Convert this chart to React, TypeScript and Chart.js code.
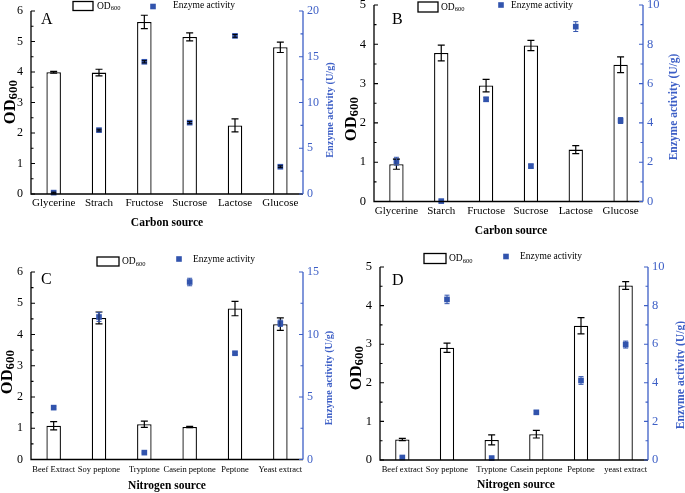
import React, { useEffect, useRef } from "react";
import { Chart, registerables } from "chart.js";

Chart.register(...registerables);

const W = 685;
const H = 493;
const FONT = "'Liberation Serif', 'Times New Roman', serif";
const BLUE = "#3254ad";
const AXIS_BLUE = "#3d5fc6";

// ---------- Panel A (carbon source, first strain) ----------
const catA = ["Glycerine", "Strach", "Fructose", "Sucrose", "Lactose", "Glucose"];
const odA = [3.99, 3.98, 5.64, 5.15, 2.25, 4.81];
const odErrA = [0.03, 0.11, 0.22, 0.13, 0.21, 0.17];
const enzA = [0.15, 6.98, 14.45, 7.8, 17.28, 2.98];
const enzErrA = [0.05, 0.1, 0.12, 0.12, 0.15, 0.1];

// ---------- Panel B (carbon source, second strain) ----------
const catB = ["Glycerine", "Starch", "Fructose", "Sucrose", "Lactose", "Glucose"];
const odB = [0.95, 3.78, 2.95, 3.97, 1.32, 3.48];
const odErrB = [0.13, 0.2, 0.16, 0.13, 0.1, 0.2];
const enzB = [2.05, 0.02, 5.2, 1.8, 8.9, 4.12];
const enzErrB = [0.2, 0.05, 0.1, 0.1, 0.25, 0.15];

// ---------- Panel C (nitrogen source, first strain) ----------
const catC = ["Beef Extract", "Soy peptone", "Tryptone", "Casein peptone", "Peptone", "Yeast extract"];
const odC = [1.08, 4.53, 1.13, 1.04, 4.83, 4.33];
const odErrC = [0.13, 0.19, 0.1, 0.02, 0.23, 0.2];
const enzC = [4.15, 11.4, 0.55, 14.2, 8.5, 10.9];
const enzErrC = [0.1, 0.35, 0.05, 0.3, 0.1, 0.25];

// ---------- Panel D (nitrogen source, second strain) ----------
const catD = ["Beef extract", "Soy peptone", "Tryptone", "Casein peptone", "Peptone", "yeast extract"];
const odD = [0.53, 2.91, 0.52, 0.67, 3.48, 4.52];
const odErrD = [0.03, 0.12, 0.13, 0.1, 0.21, 0.1];
const enzD = [0.13, 8.32, 0.1, 2.47, 4.12, 5.98];
const enzErrD = [0.05, 0.22, 0.05, 0.08, 0.2, 0.18];

type Panel = {
  letter: string;
  cats: string[];
  od: number[];
  odErr: number[];
  enz: number[];
  enzErr: number[];
  odMax: number;
  enzMax: number;
  enzStep: number;
  xTitle: string;
  area: { l: number; r: number; t: number; b: number };
  tickFont: number;
  xFont: number;
  xPad: number;
  enzErrColor: string;
  letterPos: [number, number];
  xTitlePos: [number, number];
  leftTitlePos: [number, number];
  rightTitlePos: [number, number];
  rightTitleFont: number;
  legend: { box: [number, number, number, number]; odX: number; odY: number; sq: [number, number]; txtX: number; txtY: number };
};

const panels: Panel[] = [
  {
    letter: "A", cats: catA, od: odA, odErr: odErrA, enz: enzA, enzErr: enzErrA,
    odMax: 6, enzMax: 20, enzStep: 5, xTitle: "Carbon source",
    area: { l: 31, r: 303, t: 11, b: 194 },
    tickFont: 12, xFont: 11, xPad: 3, enzErrColor: "#000",
    letterPos: [41, 23.5], xTitlePos: [167, 223], leftTitlePos: [11, 102], rightTitlePos: [330, 110], rightTitleFont: 10.3,
    legend: { box: [73, 1.5, 20, 9], odX: 97, odY: 6, sq: [153, 6.5], txtX: 173, txtY: 5.5 },
  },
  {
    letter: "B", cats: catB, od: odB, odErr: odErrB, enz: enzB, enzErr: enzErrB,
    odMax: 5, enzMax: 10, enzStep: 2, xTitle: "Carbon source",
    area: { l: 374, r: 643, t: 5, b: 201.5 },
    tickFont: 12.5, xFont: 11, xPad: 3.5, enzErrColor: BLUE,
    letterPos: [392, 23.5], xTitlePos: [511, 231], leftTitlePos: [352, 119], rightTitlePos: [674, 107], rightTitleFont: 11.5,
    legend: { box: [418, 2, 20, 10], odX: 441, odY: 7, sq: [501, 5], txtX: 511, txtY: 5 },
  },
  {
    letter: "C", cats: catC, od: odC, odErr: odErrC, enz: enzC, enzErr: enzErrC,
    odMax: 6, enzMax: 15, enzStep: 5, xTitle: "Nitrogen source",
    area: { l: 31, r: 303, t: 272, b: 459.5 },
    tickFont: 12, xFont: 8.5, xPad: 5, enzErrColor: BLUE,
    letterPos: [41, 284], xTitlePos: [167, 486], leftTitlePos: [8, 372], rightTitlePos: [329, 378], rightTitleFont: 10.2,
    legend: { box: [97, 257, 22, 9], odX: 122, odY: 261.5, sq: [179, 259], txtX: 193, txtY: 259 },
  },
  {
    letter: "D", cats: catD, od: odD, odErr: odErrD, enz: enzD, enzErr: enzErrD,
    odMax: 5, enzMax: 10, enzStep: 2, xTitle: "Nitrogen source",
    area: { l: 380, r: 648, t: 267, b: 460 },
    tickFont: 12.5, xFont: 8.5, xPad: 4.5, enzErrColor: BLUE,
    letterPos: [392, 285], xTitlePos: [516, 485], leftTitlePos: [357, 368], rightTitlePos: [681, 375], rightTitleFont: 11.7,
    legend: { box: [424, 253.5, 22, 10], odX: 449, odY: 258.5, sq: [506, 256.5], txtX: 520, txtY: 256.5 },
  },
];

function drawSubText(
  ctx: CanvasRenderingContext2D,
  main: string,
  sub: string,
  x: number,
  y: number,
  mainFont: string,
  subFont: string,
  subShift: number,
  align: "left" | "center",
) {
  ctx.font = mainFont;
  const w1 = ctx.measureText(main).width;
  ctx.font = subFont;
  const w2 = ctx.measureText(sub).width;
  const start = align === "center" ? x - (w1 + w2) / 2 : x;
  ctx.textAlign = "left";
  ctx.textBaseline = "middle";
  ctx.font = mainFont;
  ctx.fillText(main, start, y);
  ctx.font = subFont;
  ctx.fillText(sub, start + w1, y + subShift);
}

const decorPlugin = {
  id: "decor",
  afterDatasetsDraw(chart: any) {
    const p: Panel = chart.options.plugins.decor.panel;
    const ctx: CanvasRenderingContext2D = chart.ctx;
    const yS = chart.scales.y;
    const y1S = chart.scales.y1;
    ctx.save();
    // error bars for OD bars
    const barMeta = chart.getDatasetMeta(0);
    ctx.strokeStyle = "#000";
    ctx.lineWidth = 1.2;
    barMeta.data.forEach((el: any, i: number) => {
      const x = el.x;
      const yt = yS.getPixelForValue(p.od[i] + p.odErr[i]);
      const yb = yS.getPixelForValue(p.od[i] - p.odErr[i]);
      ctx.beginPath();
      ctx.moveTo(x, yt);
      ctx.lineTo(x, yb);
      ctx.moveTo(x - 3.5, yt);
      ctx.lineTo(x + 3.5, yt);
      ctx.moveTo(x - 3.5, yb);
      ctx.lineTo(x + 3.5, yb);
      ctx.stroke();
    });
    // error bars for enzyme points
    const ptMeta = chart.getDatasetMeta(1);
    ctx.strokeStyle = p.enzErrColor;
    ctx.lineWidth = 1;
    ptMeta.data.forEach((el: any, i: number) => {
      const x = el.x;
      const yt = y1S.getPixelForValue(p.enz[i] + p.enzErr[i]);
      const yb = y1S.getPixelForValue(p.enz[i] - p.enzErr[i]);
      ctx.beginPath();
      ctx.moveTo(x, yt);
      ctx.lineTo(x, yb);
      ctx.moveTo(x - 2.5, yt);
      ctx.lineTo(x + 2.5, yt);
      ctx.moveTo(x - 2.5, yb);
      ctx.lineTo(x + 2.5, yb);
      ctx.stroke();
    });

    const a = chart.chartArea;
    // axes lines
    ctx.lineWidth = 1.3;
    ctx.strokeStyle = "#000";
    ctx.beginPath();
    ctx.moveTo(a.left, a.top);
    ctx.lineTo(a.left, a.bottom);
    ctx.lineTo(a.right, a.bottom);
    ctx.stroke();
    ctx.strokeStyle = AXIS_BLUE;
    ctx.beginPath();
    ctx.moveTo(a.right, a.top);
    ctx.lineTo(a.right, a.bottom);
    ctx.stroke();

    // inward ticks (major and minor)
    const drawTicks = (scale: any, x0: number, dir: number, color: string) => {
      ctx.strokeStyle = color;
      ctx.lineWidth = 1.1;
      const vals = scale.ticks.map((t: any) => t.value);
      ctx.beginPath();
      vals.forEach((v: number, i: number) => {
        const y = scale.getPixelForValue(v);
        ctx.moveTo(x0, y);
        ctx.lineTo(x0 + dir * 4, y);
        if (i < vals.length - 1) {
          const ym = scale.getPixelForValue((v + vals[i + 1]) / 2);
          ctx.moveTo(x0, ym);
          ctx.lineTo(x0 + dir * 2.5, ym);
        }
      });
      ctx.stroke();
    };
    drawTicks(yS, a.left, 1, "#000");
    drawTicks(y1S, a.right, -1, AXIS_BLUE);

    // panel letter
    ctx.fillStyle = "#000";
    ctx.font = `16px ${FONT}`;
    ctx.textAlign = "left";
    ctx.textBaseline = "alphabetic";
    ctx.fillText(p.letter, p.letterPos[0], p.letterPos[1]);

    // x title
    ctx.font = `bold 11.5px ${FONT}`;
    ctx.textAlign = "center";
    ctx.textBaseline = "middle";
    ctx.fillText(p.xTitle, p.xTitlePos[0], p.xTitlePos[1]);

    // left title OD600 (rotated)
    ctx.save();
    ctx.translate(p.leftTitlePos[0], p.leftTitlePos[1]);
    ctx.rotate(-Math.PI / 2);
    ctx.fillStyle = "#000";
    drawSubText(ctx, "OD", "600", 0, 0, `bold 16.5px ${FONT}`, `bold 13px ${FONT}`, 3, "center");
    ctx.restore();

    // right title
    ctx.save();
    ctx.translate(p.rightTitlePos[0], p.rightTitlePos[1]);
    ctx.rotate(-Math.PI / 2);
    ctx.fillStyle = AXIS_BLUE;
    ctx.font = `bold ${p.rightTitleFont}px ${FONT}`;
    ctx.textAlign = "center";
    ctx.textBaseline = "middle";
    ctx.fillText("Enzyme activity (U/g)", 0, 0);
    ctx.restore();

    // legend
    const lg = p.legend;
    ctx.strokeStyle = "#000";
    ctx.lineWidth = 1.3;
    ctx.fillStyle = "#fff";
    ctx.fillRect(lg.box[0], lg.box[1], lg.box[2], lg.box[3]);
    ctx.strokeRect(lg.box[0], lg.box[1], lg.box[2], lg.box[3]);
    ctx.fillStyle = "#000";
    drawSubText(ctx, "OD", "600", lg.odX, lg.odY, `9.5px ${FONT}`, `6.5px ${FONT}`, 2.5, "left");
    ctx.fillStyle = BLUE;
    ctx.fillRect(lg.sq[0] - 2.8, lg.sq[1] - 2.8, 5.6, 5.6);
    ctx.fillStyle = "#000";
    ctx.font = `9.5px ${FONT}`;
    ctx.textAlign = "left";
    ctx.textBaseline = "middle";
    ctx.fillText("Enzyme activity", lg.txtX, lg.txtY);

    ctx.restore();
  },
};

function PanelChart({ p }: { p: Panel }) {
  const ref = useRef<HTMLCanvasElement | null>(null);
  useEffect(() => {
    if (!ref.current) return;
    const chart = new Chart(ref.current, {
      type: "bar",
      data: {
        labels: p.cats,
        datasets: [
          {
            type: "bar",
            label: "OD600",
            data: p.od,
            backgroundColor: "#fff",
            borderColor: "#000",
            borderWidth: 1.3,
            barPercentage: 0.32,
            categoryPercentage: 1,
            yAxisID: "y",
            order: 1,
          } as any,
          {
            type: "line",
            label: "Enzyme activity",
            data: p.enz,
            showLine: false,
            pointStyle: "rect",
            pointRadius: 4,
            pointBorderWidth: 0,
            pointBackgroundColor: BLUE,
            pointBorderColor: BLUE,
            yAxisID: "y1",
            order: 0,
            clip: false,
          } as any,
        ],
      },
      options: {
        responsive: false,
        animation: false,
        devicePixelRatio: 1,
        layout: { padding: { top: p.area.t, left: 0, right: 0, bottom: 0 } },
        plugins: {
          legend: { display: false },
          tooltip: { enabled: false },
          decor: { panel: p },
        } as any,
        scales: {
          x: {
            type: "category",
            offset: true,
            grid: { display: false, drawTicks: false },
            border: { display: false },
            ticks: {
              font: { family: FONT, size: p.xFont },
              color: "#000",
              padding: p.xPad,
              maxRotation: 0,
              minRotation: 0,
              autoSkip: false,
            },
            afterFit: (s: any) => {
              s.height = H - p.area.b;
              s.paddingLeft = 0;
              s.paddingRight = 0;
            },
          },
          y: {
            type: "linear",
            position: "left",
            min: 0,
            max: p.odMax,
            grid: { display: false, drawTicks: false },
            border: { display: false },
            ticks: { stepSize: 1, font: { family: FONT, size: p.tickFont }, color: "#000", padding: 8 },
            afterFit: (s: any) => {
              s.width = p.area.l;
              s.paddingTop = 0;
              s.paddingBottom = 0;
            },
          },
          y1: {
            type: "linear",
            position: "right",
            min: 0,
            max: p.enzMax,
            grid: { display: false, drawTicks: false },
            border: { display: false },
            ticks: { stepSize: p.enzStep, font: { family: FONT, size: p.tickFont }, color: AXIS_BLUE, padding: 4 },
            afterFit: (s: any) => {
              s.width = W - p.area.r;
              s.paddingTop = 0;
              s.paddingBottom = 0;
            },
          },
        } as any,
      },
      plugins: [decorPlugin],
    });
    return () => chart.destroy();
  }, [p]);
  return (
    <canvas
      ref={ref}
      width={W}
      height={H}
      style={{ position: "absolute", left: 0, top: 0, width: W, height: H }}
    />
  );
}

export default function App() {
  return (
    <div style={{ position: "absolute", left: 0, top: 0, width: W, height: H, background: "#fff" }}>
      {panels.map((p) => (
        <PanelChart key={p.letter} p={p} />
      ))}
    </div>
  );
}
